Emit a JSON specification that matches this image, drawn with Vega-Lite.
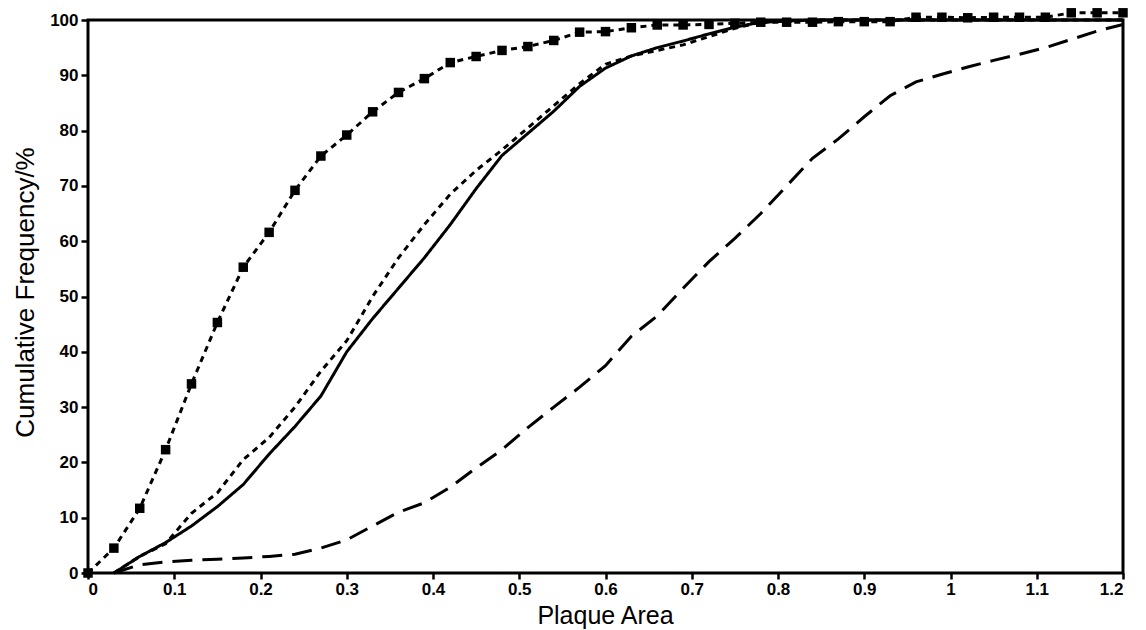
{
  "$schema": "https://vega.github.io/schema/vega-lite/v6.json",
  "autosize": "none",
  "width": 1035,
  "height": 553,
  "padding": {"left": 88, "top": 20, "right": 23, "bottom": 57},
  "background": "white",
  "config": {
    "view": {"stroke": "black", "strokeWidth": 3},
    "axis": {
      "domain": false,
      "grid": false,
      "tickColor": "black",
      "tickWidth": 2.5,
      "tickSize": 7,
      "labelFont": "Liberation Sans",
      "labelFontSize": 17,
      "labelFontWeight": "bold",
      "labelColor": "black",
      "titleFont": "Liberation Sans",
      "titleFontSize": 25,
      "titleFontWeight": "normal",
      "titleColor": "black"
    }
  },
  "data": {
    "values": [
      {"x": 0, "y": 0, "s": "A"},
      {"x": 0.03, "y": 4.5, "s": "A"},
      {"x": 0.06, "y": 11.7, "s": "A"},
      {"x": 0.09, "y": 22.3, "s": "A"},
      {"x": 0.12, "y": 34.2, "s": "A"},
      {"x": 0.15, "y": 45.3, "s": "A"},
      {"x": 0.18, "y": 55.3, "s": "A"},
      {"x": 0.21, "y": 61.6, "s": "A"},
      {"x": 0.24, "y": 69.2, "s": "A"},
      {"x": 0.27, "y": 75.4, "s": "A"},
      {"x": 0.30, "y": 79.2, "s": "A"},
      {"x": 0.33, "y": 83.4, "s": "A"},
      {"x": 0.36, "y": 86.9, "s": "A"},
      {"x": 0.39, "y": 89.4, "s": "A"},
      {"x": 0.42, "y": 92.3, "s": "A"},
      {"x": 0.45, "y": 93.4, "s": "A"},
      {"x": 0.48, "y": 94.5, "s": "A"},
      {"x": 0.51, "y": 95.2, "s": "A"},
      {"x": 0.54, "y": 96.3, "s": "A"},
      {"x": 0.57, "y": 97.8, "s": "A"},
      {"x": 0.60, "y": 97.9, "s": "A"},
      {"x": 0.63, "y": 98.6, "s": "A"},
      {"x": 0.66, "y": 99.1, "s": "A"},
      {"x": 0.69, "y": 99.1, "s": "A"},
      {"x": 0.72, "y": 99.2, "s": "A"},
      {"x": 0.75, "y": 99.4, "s": "A"},
      {"x": 0.78, "y": 99.6, "s": "A"},
      {"x": 0.81, "y": 99.6, "s": "A"},
      {"x": 0.84, "y": 99.6, "s": "A"},
      {"x": 0.87, "y": 99.7, "s": "A"},
      {"x": 0.90, "y": 99.7, "s": "A"},
      {"x": 0.93, "y": 99.7, "s": "A"},
      {"x": 0.96, "y": 100.5, "s": "A"},
      {"x": 0.99, "y": 100.5, "s": "A"},
      {"x": 1.02, "y": 100.4, "s": "A"},
      {"x": 1.05, "y": 100.5, "s": "A"},
      {"x": 1.08, "y": 100.5, "s": "A"},
      {"x": 1.11, "y": 100.5, "s": "A"},
      {"x": 1.14, "y": 101.3, "s": "A"},
      {"x": 1.17, "y": 101.3, "s": "A"},
      {"x": 1.20, "y": 101.3, "s": "A"},

      {"x": 0.03, "y": 0, "s": "B"},
      {"x": 0.06, "y": 3, "s": "B"},
      {"x": 0.09, "y": 5.3, "s": "B"},
      {"x": 0.12, "y": 10.8, "s": "B"},
      {"x": 0.15, "y": 14.5, "s": "B"},
      {"x": 0.18, "y": 20.5, "s": "B"},
      {"x": 0.21, "y": 24.5, "s": "B"},
      {"x": 0.24, "y": 30, "s": "B"},
      {"x": 0.27, "y": 36.5, "s": "B"},
      {"x": 0.30, "y": 42, "s": "B"},
      {"x": 0.33, "y": 50, "s": "B"},
      {"x": 0.36, "y": 57, "s": "B"},
      {"x": 0.39, "y": 63, "s": "B"},
      {"x": 0.42, "y": 68.5, "s": "B"},
      {"x": 0.45, "y": 72.8, "s": "B"},
      {"x": 0.48, "y": 76.5, "s": "B"},
      {"x": 0.51, "y": 80.5, "s": "B"},
      {"x": 0.54, "y": 84.5, "s": "B"},
      {"x": 0.57, "y": 88.5, "s": "B"},
      {"x": 0.60, "y": 92, "s": "B"},
      {"x": 0.63, "y": 93.5, "s": "B"},
      {"x": 0.66, "y": 94.5, "s": "B"},
      {"x": 0.69, "y": 95.5, "s": "B"},
      {"x": 0.72, "y": 97, "s": "B"},
      {"x": 0.75, "y": 98.5, "s": "B"},
      {"x": 0.78, "y": 99.6, "s": "B"},
      {"x": 0.84, "y": 100, "s": "B"},
      {"x": 1.20, "y": 100, "s": "B"},

      {"x": 0.03, "y": 0, "s": "C"},
      {"x": 0.06, "y": 3, "s": "C"},
      {"x": 0.09, "y": 5.5, "s": "C"},
      {"x": 0.12, "y": 8.5, "s": "C"},
      {"x": 0.15, "y": 12, "s": "C"},
      {"x": 0.18, "y": 16, "s": "C"},
      {"x": 0.21, "y": 21.5, "s": "C"},
      {"x": 0.24, "y": 26.5, "s": "C"},
      {"x": 0.27, "y": 32, "s": "C"},
      {"x": 0.30, "y": 40, "s": "C"},
      {"x": 0.33, "y": 46, "s": "C"},
      {"x": 0.36, "y": 51.5, "s": "C"},
      {"x": 0.39, "y": 57, "s": "C"},
      {"x": 0.42, "y": 63, "s": "C"},
      {"x": 0.45, "y": 69.5, "s": "C"},
      {"x": 0.48, "y": 75.5, "s": "C"},
      {"x": 0.51, "y": 79.5, "s": "C"},
      {"x": 0.54, "y": 83.5, "s": "C"},
      {"x": 0.57, "y": 88, "s": "C"},
      {"x": 0.60, "y": 91.3, "s": "C"},
      {"x": 0.63, "y": 93.5, "s": "C"},
      {"x": 0.66, "y": 95, "s": "C"},
      {"x": 0.69, "y": 96.2, "s": "C"},
      {"x": 0.72, "y": 97.5, "s": "C"},
      {"x": 0.75, "y": 98.7, "s": "C"},
      {"x": 0.78, "y": 99.6, "s": "C"},
      {"x": 0.84, "y": 100, "s": "C"},
      {"x": 1.20, "y": 100, "s": "C"},

      {"x": 0.03, "y": 0, "s": "D"},
      {"x": 0.06, "y": 1.5, "s": "D"},
      {"x": 0.09, "y": 2, "s": "D"},
      {"x": 0.12, "y": 2.3, "s": "D"},
      {"x": 0.15, "y": 2.5, "s": "D"},
      {"x": 0.18, "y": 2.7, "s": "D"},
      {"x": 0.21, "y": 3, "s": "D"},
      {"x": 0.24, "y": 3.4, "s": "D"},
      {"x": 0.27, "y": 4.5, "s": "D"},
      {"x": 0.30, "y": 6, "s": "D"},
      {"x": 0.33, "y": 8.5, "s": "D"},
      {"x": 0.36, "y": 11, "s": "D"},
      {"x": 0.39, "y": 12.7, "s": "D"},
      {"x": 0.42, "y": 15.5, "s": "D"},
      {"x": 0.45, "y": 19, "s": "D"},
      {"x": 0.48, "y": 22.3, "s": "D"},
      {"x": 0.51, "y": 26.3, "s": "D"},
      {"x": 0.54, "y": 30, "s": "D"},
      {"x": 0.57, "y": 33.6, "s": "D"},
      {"x": 0.60, "y": 37.5, "s": "D"},
      {"x": 0.63, "y": 42.8, "s": "D"},
      {"x": 0.66, "y": 46.5, "s": "D"},
      {"x": 0.69, "y": 51.5, "s": "D"},
      {"x": 0.72, "y": 56.3, "s": "D"},
      {"x": 0.75, "y": 60.5, "s": "D"},
      {"x": 0.78, "y": 65, "s": "D"},
      {"x": 0.81, "y": 70, "s": "D"},
      {"x": 0.84, "y": 75, "s": "D"},
      {"x": 0.87, "y": 78.5, "s": "D"},
      {"x": 0.90, "y": 82.5, "s": "D"},
      {"x": 0.93, "y": 86.3, "s": "D"},
      {"x": 0.96, "y": 88.8, "s": "D"},
      {"x": 0.99, "y": 90.2, "s": "D"},
      {"x": 1.02, "y": 91.5, "s": "D"},
      {"x": 1.05, "y": 92.7, "s": "D"},
      {"x": 1.08, "y": 93.8, "s": "D"},
      {"x": 1.11, "y": 95, "s": "D"},
      {"x": 1.14, "y": 96.5, "s": "D"},
      {"x": 1.17, "y": 98, "s": "D"},
      {"x": 1.20, "y": 99.2, "s": "D"}
    ]
  },
  "encoding": {
    "x": {
      "field": "x", "type": "quantitative",
      "scale": {"domain": [0, 1.2], "nice": false},
      "axis": {
        "title": "Plaque Area",
        "values": [0, 0.1, 0.2, 0.3, 0.4, 0.5, 0.6, 0.7, 0.8, 0.9, 1, 1.1, 1.2],
        "format": "~g",
        "labelPadding": 2,
        "tickSize": 6,
        "titleX": 517,
        "titleY": 50,
        "titleBaseline": "alphabetic"
      }
    },
    "y": {
      "field": "y", "type": "quantitative",
      "scale": {"domain": [0, 100], "nice": false},
      "axis": {
        "title": "Cumulative Frequency/%",
        "values": [0, 10, 20, 30, 40, 50, 60, 70, 80, 90, 100],
        "format": "d",
        "labelPadding": 3,
        "titleX": -55,
        "titleY": 272,
        "titleFontSize": 26,
        "titleAngle": 270,
        "titleBaseline": "alphabetic"
      }
    }
  },
  "layer": [
    {
      "mark": {"type": "line", "color": "black", "strokeWidth": 3, "clip": false},
      "encoding": {
        "detail": {"field": "s"},
        "strokeDash": {
          "field": "s", "type": "nominal",
          "scale": {"domain": ["A", "B", "C", "D"], "range": [[6, 5], [6, 5], [1, 0], [20, 10]]},
          "legend": null
        }
      }
    },
    {
      "transform": [{"filter": "datum.s === 'A'"}],
      "mark": {"type": "point", "shape": "square", "filled": true, "color": "black", "size": 90, "opacity": 1, "clip": false}
    }
  ]
}
